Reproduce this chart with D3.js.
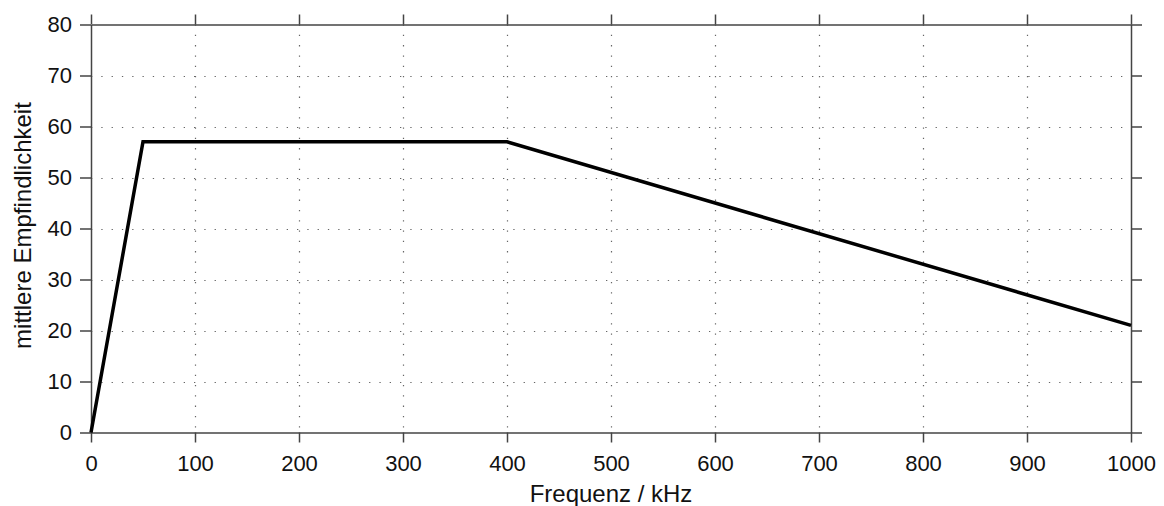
<!DOCTYPE html>
<html>
<head>
<meta charset="utf-8">
<script src="https://cdn.jsdelivr.net/npm/d3@7"></script>
<style>
  body { margin: 0; background: #fff; }
  text { font-family: "Liberation Sans", Arial, sans-serif; fill: #111; }
</style>
</head>
<body>
<div id="chart"></div>
<script>
// Data points (frequency in kHz, mean sensitivity)
const freqs = [0, 50, 400, 1000];
const sens = [0, 57, 57, 21];
const xTicks = [0, 100, 200, 300, 400, 500, 600, 700, 800, 900, 1000];
const yTicks = [0, 10, 20, 30, 40, 50, 60, 70, 80];

const W = 1164, H = 506;
const margin = { left: 91, right: 33, top: 24.5, bottom: 73.5 };

const svg = d3.select('#chart').append('svg')
    .attr('width', W)
    .attr('height', H);

const x = d3.scaleLinear().domain([0, 1000]).range([margin.left, W - margin.right]);
const y = d3.scaleLinear().domain([0, 80]).range([H - margin.bottom, margin.top]);

const axisColor = '#444';

// dotted grid
const grid = svg.append('g');
grid.selectAll('line.gx')
    .data(xTicks.slice(1, -1))
    .enter().append('line')
    .attr('x1', d => Math.round(x(d)) + 0.5).attr('x2', d => Math.round(x(d)) + 0.5)
    .attr('y1', y(80)).attr('y2', y(0))
    .attr('stroke', '#666').attr('stroke-width', 1.2)
    .attr('stroke-dasharray', '1.3,9');
grid.selectAll('line.gy')
    .data(yTicks.slice(1, -1))
    .enter().append('line')
    .attr('y1', d => Math.round(y(d)) + 0.5).attr('y2', d => Math.round(y(d)) + 0.5)
    .attr('x1', x(0)).attr('x2', x(1000))
    .attr('stroke', '#666').attr('stroke-width', 1.2)
    .attr('stroke-dasharray', '1.3,9');

// axes (ticks outward on all sides)
function styleAxis(g) {
    g.attr('font-family', null).attr('font-size', null);
    g.selectAll('path').attr('stroke', axisColor).attr('stroke-width', 1.5);
    g.selectAll('line').attr('stroke', axisColor).attr('stroke-width', 1.5);
    g.selectAll('text').style('font-size', '22px').attr('fill', '#111');
}

svg.append('g')
    .attr('transform', `translate(0,${y(0)})`)
    .call(d3.axisBottom(x).tickValues(xTicks).tickFormat(d3.format('d'))
        .tickSize(10).tickSizeOuter(0).tickPadding(13))
    .call(styleAxis);
svg.append('g')
    .attr('transform', `translate(0,${y(80)})`)
    .call(d3.axisTop(x).tickValues(xTicks).tickSize(10).tickSizeOuter(0).tickFormat(''))
    .call(styleAxis);
svg.append('g')
    .attr('transform', `translate(${x(0)},0)`)
    .call(d3.axisLeft(y).tickValues(yTicks).tickSize(11).tickSizeOuter(0).tickPadding(8))
    .call(styleAxis);
svg.append('g')
    .attr('transform', `translate(${x(1000)},0)`)
    .call(d3.axisRight(y).tickValues(yTicks).tickSize(11).tickSizeOuter(0).tickFormat(''))
    .call(styleAxis);

// data line
const line = d3.line().x((d, i) => x(freqs[i])).y(d => y(d));
svg.append('path')
    .datum(sens)
    .attr('d', line)
    .attr('fill', 'none')
    .attr('stroke', '#000')
    .attr('stroke-width', 3.5)
    .attr('stroke-linejoin', 'miter');

// axis titles
svg.append('text')
    .attr('x', (x(0) + x(1000)) / 2)
    .attr('y', 501.5)
    .attr('text-anchor', 'middle')
    .style('font-size', '24px')
    .text('Frequenz / kHz');
svg.append('text')
    .attr('transform', `translate(31,225.5) rotate(-90)`)
    .attr('text-anchor', 'middle')
    .style('font-size', '24px')
    .text('mittlere Empfindlichkeit');
</script>
</body>
</html>
